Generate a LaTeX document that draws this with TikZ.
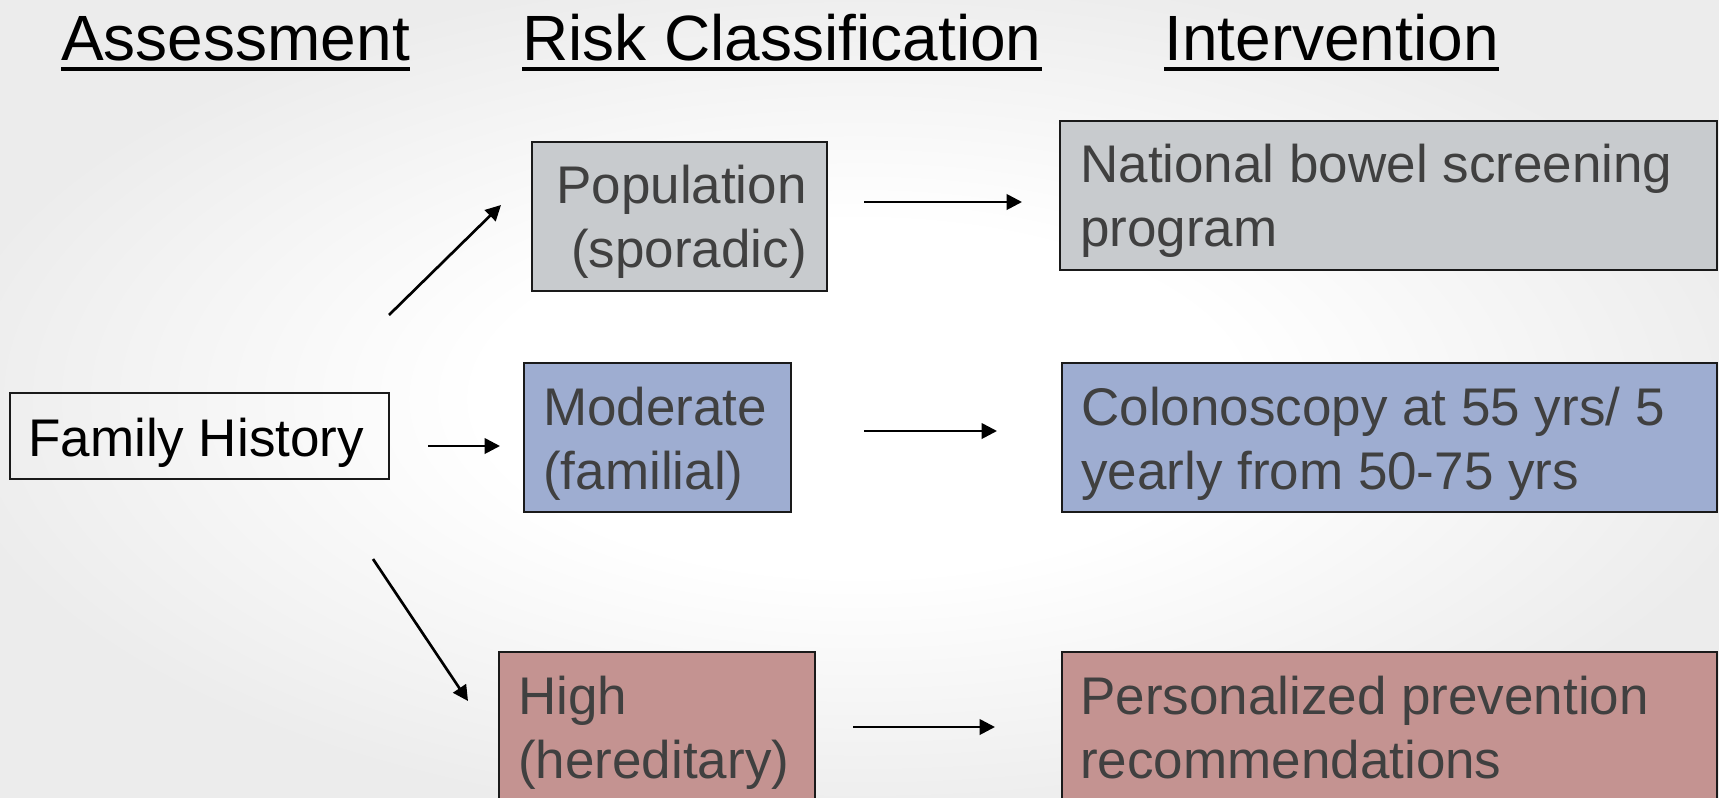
\documentclass[tikz,border=0pt]{standalone}
\usepackage{fontspec}
\setmainfont{Liberation Sans}
\usetikzlibrary{arrows.meta}

\definecolor{popfill}{HTML}{C8CBCE}
\definecolor{modfill}{HTML}{9EADD1}
\definecolor{highfill}{HTML}{C49391}
\definecolor{boxtext}{HTML}{404040}
\definecolor{boxedge}{HTML}{1A1A1A}
\definecolor{bgedge}{HTML}{ECECEC}

% soft backdrop: white middle fading to light grey at the edges
\pgfdeclareradialshading{backglow}{\pgfpoint{0bp}{0bp}}{%
  color(0bp)=(white); color(11bp)=(white); color(27bp)=(bgedge); color(50bp)=(bgedge)}

\begin{document}
\begin{tikzpicture}[x=0.75pt, y=-0.75pt,
  box/.style={draw=boxedge, line width=1.5pt, anchor=north west,
    inner sep=0pt, outer sep=0pt},
  % multi-line text: the base anchor sits on the last line
  boxtxt/.style={anchor=base west, inner sep=0pt, align=left, text=boxtext,
    font=\fontsize{39.75}{48}\selectfont},
  heading/.style={anchor=base west, inner sep=0pt,
    font=\fontsize{48}{58}\selectfont},
  headrule/.style={line width=3pt},
  arr/.style={line width=2pt, -{Triangle[length=11.5pt,width=11.5pt]}},
]
\useasboundingbox (0,0) rectangle (1719,797);
\shade[shading=backglow] (0,0) rectangle (1719,797);

% column headings
\node[heading] (hA) at (61,60) {Assessment};
\node[heading] (hR) at (522,60) {Risk Classification};
\node[heading] (hI) at (1164,60) {Intervention};
\foreach \h in {hA,hR,hI}
  \draw[headrule] ([yshift=-6.5pt]\h.base west) -- ([yshift=-6.5pt]\h.base east);

% assessment
\node[box, minimum width=284.25pt, minimum height=64.5pt] (fh) at (10,393) {};
\node[anchor=base west, inner sep=0pt, font=\fontsize{39.75}{48}\selectfont]
  (fhT) at (28,456) {Family History};

% risk classes
\node[box, fill=popfill, minimum width=221.25pt, minimum height=111.75pt] (pop) at (532,142) {};
\node[boxtxt, anchor=base east, align=right] (popT) at (807,267) {Population\\(sporadic)};

\node[box, fill=modfill, minimum width=200.25pt, minimum height=111.75pt] (mod) at (524,363) {};
\node[boxtxt] (modT) at (543,489) {Moderate\\(familial)};

\node[box, fill=highfill, minimum width=237pt, minimum height=111.75pt] (high) at (499,652) {};
\node[boxtxt] (highT) at (518,778) {High\\(hereditary)};

% interventions
\node[box, fill=popfill, minimum width=492.75pt, minimum height=111.75pt] (nat) at (1060,121) {};
\node[boxtxt] (natT) at (1080,246) {National bowel screening\\program};

\node[box, fill=modfill, minimum width=491.25pt, minimum height=111.75pt] (col) at (1062,363) {};
\node[boxtxt] (colT) at (1081,489) {Colonoscopy at 55 yrs/ 5\\yearly from 50-75 yrs};

\node[box, fill=highfill, minimum width=491.25pt, minimum height=111.75pt] (pers) at (1062,652) {};
\node[boxtxt] (persT) at (1080,778) {Personalized prevention\\recommendations};

% arrow end points
\coordinate (fhUp) at (389,315);
\coordinate (popIn) at (501,205);
\coordinate (fhMid) at (428,446);
\coordinate (modIn) at (500,446);
\coordinate (fhDown) at (373,559);
\coordinate (highIn) at (468,701);
\coordinate (popOut) at (864,202);
\coordinate (natIn) at (1022,202);
\coordinate (modOut) at (864,431);
\coordinate (colIn) at (997,431);
\coordinate (highOut) at (853,727);
\coordinate (persIn) at (995,727);

\draw[arr] (fhUp) -- (popIn);
\draw[arr] (fhMid) -- (modIn);
\draw[arr] (fhDown) -- (highIn);
\draw[arr] (popOut) -- (natIn);
\draw[arr] (modOut) -- (colIn);
\draw[arr] (highOut) -- (persIn);
\end{tikzpicture}
\end{document}
